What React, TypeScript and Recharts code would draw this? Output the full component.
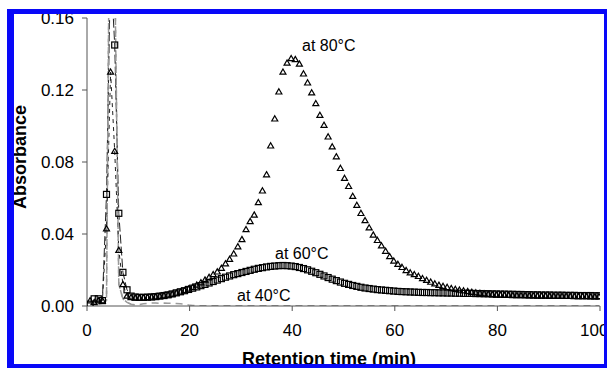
import { ComposedChart, Line, XAxis, YAxis } from "recharts"

// retention time (min), one reading every 0.8 min
const times = [
    0.6, 1.4, 2.2, 3.0, 3.8, 4.6, 5.4, 6.2, 7.0, 7.8,
    8.6, 9.4, 10.2, 11.0, 11.8, 12.6, 13.4, 14.2, 15.0, 15.8,
    16.6, 17.4, 18.2, 19.0, 19.8, 20.6, 21.4, 22.2, 23.0, 23.8,
    24.6, 25.4, 26.2, 27.0, 27.8, 28.6, 29.4, 30.2, 31.0, 31.8,
    32.6, 33.4, 34.2, 35.0, 35.8, 36.6, 37.4, 38.2, 39.0, 39.8,
    40.6, 41.4, 42.2, 43.0, 43.8, 44.6, 45.4, 46.2, 47.0, 47.8,
    48.6, 49.4, 50.2, 51.0, 51.8, 52.6, 53.4, 54.2, 55.0, 55.8,
    56.6, 57.4, 58.2, 59.0, 59.8, 60.6, 61.4, 62.2, 63.0, 63.8,
    64.6, 65.4, 66.2, 67.0, 67.8, 68.6, 69.4, 70.2, 71.0, 71.8,
    72.6, 73.4, 74.2, 75.0, 75.8, 76.6, 77.4, 78.2, 79.0, 79.8,
    80.6, 81.4, 82.2, 83.0, 83.8, 84.6, 85.4, 86.2, 87.0, 87.8,
    88.6, 89.4, 90.2, 91.0, 91.8, 92.6, 93.4, 94.2, 95.0, 95.8,
    96.6, 97.4, 98.2, 99.0, 99.8,
]

// absorbance at 80°C (triangles)
const abs80 = [
    0.003, 0.002, 0.003, 0.003, 0.043, 0.130, 0.086, 0.031, 0.012, 0.0056,
    0.0048, 0.0045, 0.0045, 0.0046, 0.0048, 0.005, 0.0052, 0.0055, 0.0058, 0.0062,
    0.0066, 0.0072, 0.0078, 0.0086, 0.0095, 0.0105, 0.0117, 0.013, 0.0145, 0.016,
    0.0175, 0.019, 0.021, 0.0235, 0.026, 0.029, 0.033, 0.037, 0.0425, 0.047,
    0.0506, 0.0575, 0.064, 0.073, 0.089, 0.104, 0.119, 0.130, 0.135, 0.1375,
    0.137, 0.1345, 0.129, 0.124, 0.1185, 0.1125, 0.106, 0.1005, 0.094, 0.0885,
    0.083, 0.0765, 0.071, 0.0665, 0.061, 0.056, 0.0515, 0.0475, 0.0435, 0.0395,
    0.0365, 0.0335, 0.0305, 0.0275, 0.025, 0.0232, 0.0215, 0.0198, 0.0185, 0.0175,
    0.0165, 0.0153, 0.0143, 0.0133, 0.0124, 0.0116, 0.011, 0.0104, 0.0098, 0.0093,
    0.0089, 0.0085, 0.0081, 0.0077, 0.0074, 0.0071, 0.0068, 0.0066, 0.0064, 0.0062,
    0.0061, 0.006, 0.006, 0.0059, 0.0059, 0.0058, 0.0058, 0.0057, 0.0057, 0.0056,
    0.0056, 0.0056, 0.0055, 0.0055, 0.0055, 0.0054, 0.0054, 0.0054, 0.0053, 0.0053,
    0.0053, 0.0053, 0.0052, 0.0052, 0.0052,
]

// absorbance at 60°C (squares)
const abs60 = [
    0.001, 0.004, 0.004, 0.003, 0.062, 0.19, 0.145, 0.0515, 0.0187, 0.009,
    0.0055, 0.005, 0.0048, 0.0048, 0.0049, 0.005, 0.0052, 0.0055, 0.0058, 0.0062,
    0.0067, 0.0073, 0.0079, 0.0085, 0.0092, 0.0099, 0.0106, 0.0113, 0.012, 0.0128,
    0.0136, 0.0144, 0.0152, 0.016, 0.0167, 0.0174, 0.018, 0.0186, 0.0192, 0.0198,
    0.0204, 0.0209, 0.0213, 0.0217, 0.022, 0.0222, 0.0224, 0.0225, 0.0224, 0.0222,
    0.0219, 0.0214, 0.0208, 0.0201, 0.0193, 0.0185, 0.0176, 0.0167, 0.0158, 0.0149,
    0.0141, 0.0133, 0.0126, 0.012, 0.0114, 0.0109, 0.0104, 0.01, 0.0097, 0.0094,
    0.0091, 0.0089, 0.0087, 0.0085, 0.0083, 0.0081, 0.008, 0.0079, 0.0078, 0.0077,
    0.0076, 0.0075, 0.0075, 0.0074, 0.0074, 0.0073, 0.0073, 0.0072, 0.0072, 0.0071,
    0.0071, 0.007, 0.007, 0.007, 0.0069, 0.0069, 0.0068, 0.0068, 0.0067, 0.0067,
    0.0066, 0.0066, 0.0065, 0.0065, 0.0064, 0.0064, 0.0063, 0.0063, 0.0062, 0.0062,
    0.0061, 0.0061, 0.0061, 0.006, 0.006, 0.006, 0.0059, 0.0059, 0.0059, 0.0058,
    0.0058, 0.0058, 0.0058, 0.0057, 0.0057,
]

// absorbance at 40°C (grey dashed line, no markers)
const abs40 = [
    0.001, 0.001, 0.001, 0.0015, 0.003, 0.30, 0.19, 0.012, 0.004, 0.002,
    0.001, 0.0006, 0.0008, 0.0012, 0.0015, 0.0016, 0.0016, 0.0015, 0.0016, 0.0015,
    0.0015, 0.0014, 0.0012, 0.001, 0.0006, 0.0003, 0.0002, 0.0002, 0.0002, 0.0002,
    0.0002, 0.0002, 0.0002, 0.0002, 0.0002, 0.0002, 0.0002, 0.0002, 0.0002, 0.0002,
    0.0002, 0.0002, 0.0002, 0.0002, 0.0002, 0.0002, 0.0002, 0.0002, 0.0002, 0.0002,
    0.0002, 0.0002, 0.0002, 0.0002, 0.0002, 0.0002, 0.0002, 0.0002, 0.0002, 0.0002,
    0.0002, 0.0002, 0.0002, 0.0002, 0.0002, 0.0002, 0.0002, 0.0002, 0.0002, 0.0002,
    0.0002, 0.0002, 0.0002, 0.0002, 0.0002, 0.0002, 0.0002, 0.0002, 0.0002, 0.0002,
    0.0002, 0.0002, 0.0002, 0.0002, 0.0002, 0.0002, 0.0002, 0.0002, 0.0002, 0.0002,
    0.0002, 0.0002, 0.0002, 0.0002, 0.0002, 0.0002, 0.0002, 0.0002, 0.0002, 0.0002,
    0.0002, 0.0002, 0.0002, 0.0002, 0.0002, 0.0002, 0.0002, 0.0002, 0.0002, 0.0002,
    0.0002, 0.0002, 0.0002, 0.0002, 0.0002, 0.0002, 0.0002, 0.0002, 0.0002, 0.0002,
    0.0002, 0.0002, 0.0002, 0.0002, 0.0002,
]

const xTicks = [0, 20, 40, 60, 80, 100]
const yTicks = [0, 0.04, 0.08, 0.12, 0.16]

const rows = times.map((t, i) => ({ t, a80: abs80[i], a60: abs60[i], a40: abs40[i] }))
// the connecting lines only show up on the steep first peak; elsewhere the markers hide them
const earlyRows = rows.slice(2, 11)

const FONT = "Arial, 'Liberation Sans', sans-serif"
const BLUE = "#0808f8"

function TriangleDot(props: any) {
    const { cx, cy, index } = props
    if (cx == null || cy == null) return <g key={`tri-${index}`} />
    return (
        <path
            key={`tri-${index}`}
            d={`M${cx},${cy - 3} L${cx + 3},${cy + 2.2} L${cx - 3},${cy + 2.2} Z`}
            fill="none"
            stroke="#000"
            strokeWidth={1.2}
        />
    )
}

function SquareDot(props: any) {
    const { cx, cy, index } = props
    if (cx == null || cy == null) return <g key={`sq-${index}`} />
    return (
        <rect
            key={`sq-${index}`}
            x={cx - 3}
            y={cy - 3}
            width={6}
            height={6}
            fill="none"
            stroke="#000"
            strokeWidth={1.2}
        />
    )
}

export default function App() {
    const note = { position: "absolute" as const, fontFamily: FONT, fontSize: 16, lineHeight: "16px", whiteSpace: "nowrap" as const, color: "#000" }
    return (
        <div style={{ position: "relative", width: 607, height: 368, background: "#fff", overflow: "hidden" }}>
            <style>{`body{margin:0}`}</style>
            <ComposedChart width={607} height={368} data={rows} margin={{ top: 18, right: 7, bottom: 0, left: 27 }}>
                <XAxis
                    type="number"
                    dataKey="t"
                    domain={[0, 100]}
                    ticks={xTicks}
                    allowDataOverflow
                    height={62}
                    tickSize={5}
                    tickMargin={13}
                    stroke="#555"
                    tick={{ fill: "#000", fontSize: 17, fontFamily: FONT }}
                />
                <YAxis
                    type="number"
                    domain={[0, 0.16]}
                    ticks={yTicks}
                    allowDataOverflow
                    width={60}
                    tickSize={5}
                    tickMargin={8}
                    stroke="#555"
                    tickFormatter={(v: number) => v.toFixed(2)}
                    tick={{ fill: "#000", fontSize: 17, fontFamily: FONT }}
                />
                {/* connecting lines of the first peak */}
                <Line data={earlyRows} dataKey="a40" stroke="#9a9a9a" strokeWidth={1.5} strokeDasharray="7 5" dot={false} activeDot={false} isAnimationActive={false} />
                <Line data={earlyRows} dataKey="a60" stroke="#222" strokeWidth={1} strokeDasharray="9 3" dot={false} activeDot={false} isAnimationActive={false} />
                <Line data={earlyRows} dataKey="a80" stroke="#222" strokeWidth={1} strokeDasharray="4 4" dot={false} activeDot={false} isAnimationActive={false} />
                {/* markers */}
                <Line dataKey="a40" stroke="#9a9a9a" strokeWidth={1.5} strokeDasharray="7 5" dot={false} activeDot={false} isAnimationActive={false} />
                <Line dataKey="a60" stroke="none" dot={SquareDot} activeDot={false} isAnimationActive={false} />
                <Line dataKey="a80" stroke="none" dot={TriangleDot} activeDot={false} isAnimationActive={false} />
            </ComposedChart>

            {/* annotations */}
            <div style={{ ...note, left: 302, top: 38 }}>at 80°C</div>
            <div style={{ ...note, left: 275, top: 246 }}>at 60°C</div>
            <div style={{ ...note, left: 237, top: 288 }}>at 40°C</div>

            {/* axis titles */}
            <div style={{ position: "absolute", left: 20, top: 157, transform: "translate(-50%, -50%) rotate(-90deg)", fontFamily: FONT, fontSize: 18, fontWeight: "bold", whiteSpace: "nowrap", lineHeight: "18px" }}>
                Absorbance
            </div>
            <div style={{ position: "absolute", left: 329, top: 350, transform: "translateX(-50%)", fontFamily: FONT, fontSize: 18, fontWeight: "bold", whiteSpace: "nowrap", lineHeight: "18px" }}>
                Retention time (min)
            </div>

            {/* blue frame */}
            <div style={{ position: "absolute", left: 0, top: 0, width: 607, height: 9, background: "#fff" }} />
            <div style={{ position: "absolute", left: 0, top: 0, width: 7, height: 368, background: "#fff" }} />
            <div style={{ position: "absolute", left: 7, top: 9, width: 600, height: 5, background: BLUE }} />
            <div style={{ position: "absolute", left: 7, top: 9, width: 7, height: 359, background: BLUE }} />
            <div style={{ position: "absolute", left: 604, top: 9, width: 3, height: 359, background: BLUE }} />
            <div style={{ position: "absolute", left: 7, top: 364, width: 600, height: 4, background: BLUE }} />
        </div>
    )
}
